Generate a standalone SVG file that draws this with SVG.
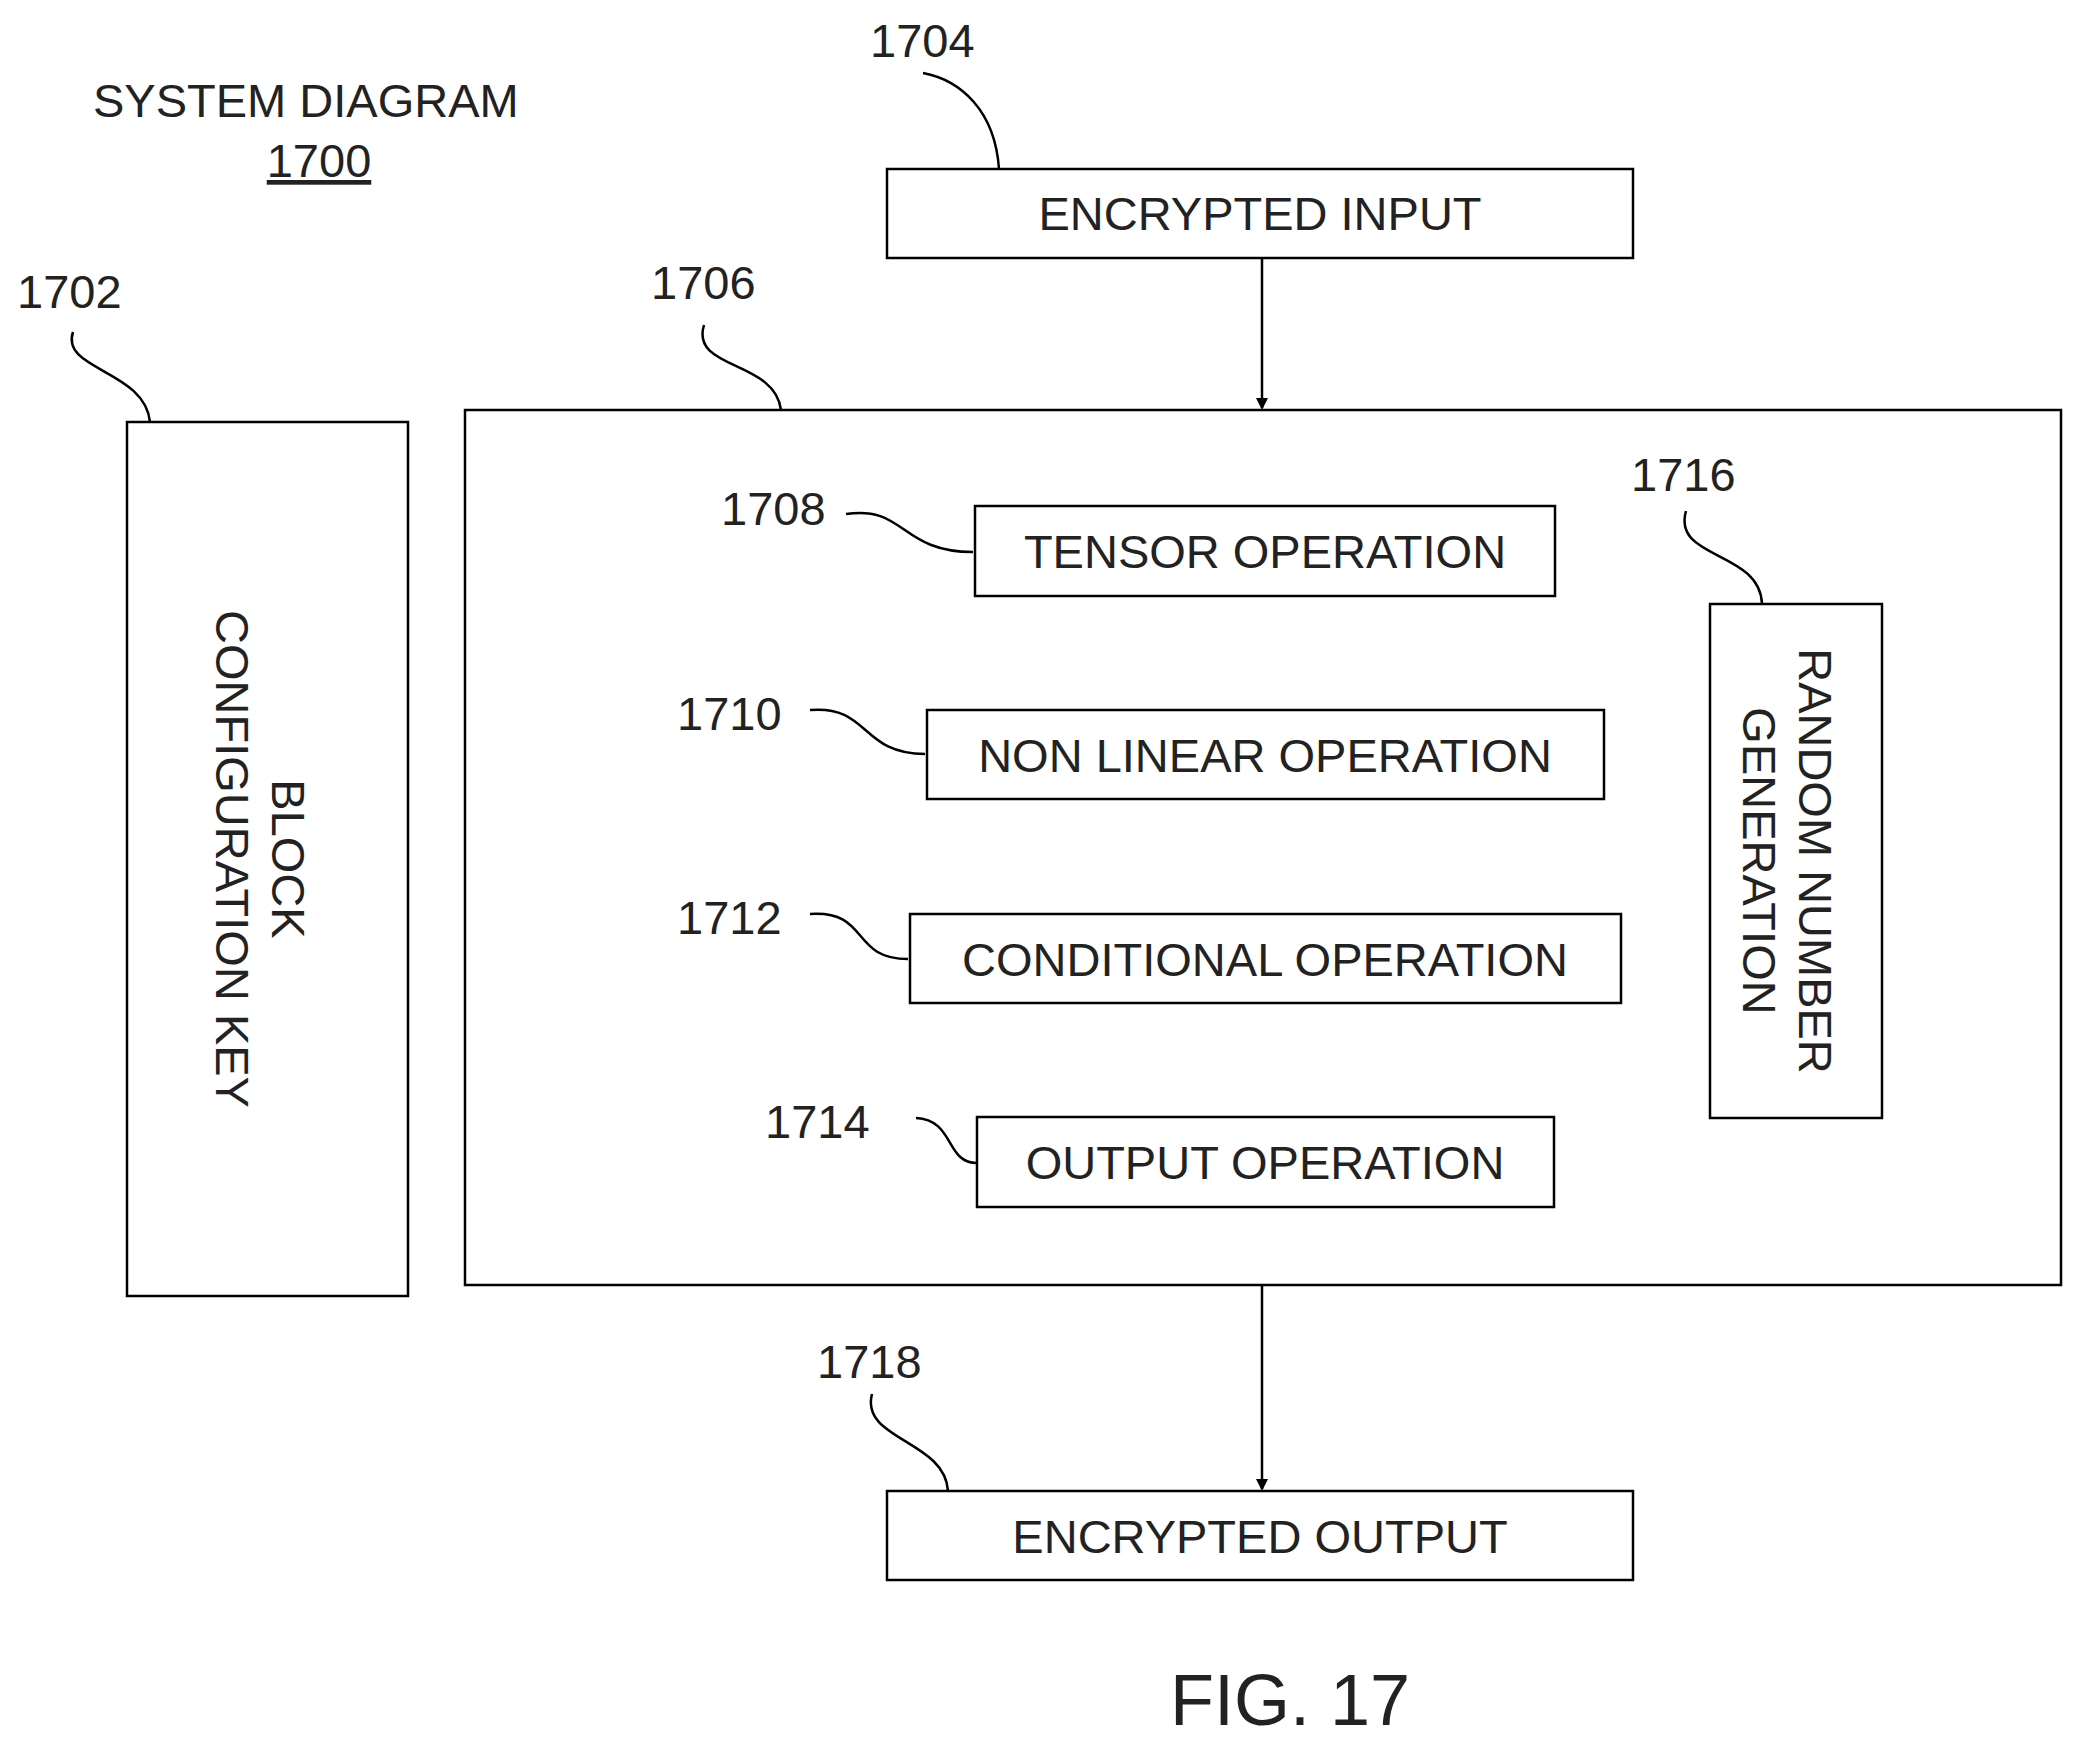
<svg xmlns="http://www.w3.org/2000/svg" width="2082" height="1753" viewBox="0 0 2082 1753">
<style>
.b{fill:none;stroke:#000;stroke-width:2.5}
.t{font-family:"Liberation Sans",Arial,sans-serif;font-size:47px;fill:#222}
.m{text-anchor:middle}
.c{fill:none;stroke:#000;stroke-width:2.5}
</style>
<defs><marker id="a" markerWidth="12" markerHeight="12" refX="10" refY="6" orient="auto" markerUnits="userSpaceOnUse"><path d="M0,0 L12,6 L0,12 z" fill="#000"/></marker></defs>
<rect width="2082" height="1753" fill="#fff"/>
<text class="t" x="93" y="117">SYSTEM DIAGRAM</text>
<text class="t m" x="319" y="177" text-decoration="underline">1700</text>
<g id="n1704"><rect class="b" x="887" y="169" width="746" height="89"/><text class="t m" x="1260" y="230">ENCRYPTED INPUT</text><text class="t" x="870" y="57">1704</text></g>
<g id="n1702"><rect class="b" x="127" y="422" width="281" height="874"/><text class="t m" transform="translate(272,859) rotate(90)">BLOCK</text><text class="t m" transform="translate(216,859) rotate(90)">CONFIGURATION KEY</text><text class="t" x="17" y="308">1702</text></g>
<g id="n1706"><rect class="b" x="465" y="410" width="1596" height="875"/><text class="t" x="651" y="299">1706</text></g>
<g id="n1708"><rect class="b" x="975" y="506" width="580" height="90"/><text class="t m" x="1265" y="568">TENSOR OPERATION</text><text class="t" x="721" y="525">1708</text></g>
<g id="n1710"><rect class="b" x="927" y="710" width="677" height="89"/><text class="t m" x="1265" y="772">NON LINEAR OPERATION</text><text class="t" x="677" y="730">1710</text></g>
<g id="n1712"><rect class="b" x="910" y="914" width="711" height="89"/><text class="t m" x="1265" y="976">CONDITIONAL OPERATION</text><text class="t" x="677" y="934">1712</text></g>
<g id="n1714"><rect class="b" x="977" y="1117" width="577" height="90"/><text class="t m" x="1265" y="1179">OUTPUT OPERATION</text><text class="t" x="765" y="1138">1714</text></g>
<g id="n1716"><rect class="b" x="1710" y="604" width="172" height="514"/><text class="t m" transform="translate(1799,861) rotate(90)">RANDOM NUMBER</text><text class="t m" transform="translate(1743,861) rotate(90)">GENERATION</text><text class="t" x="1631" y="491">1716</text></g>
<g id="n1718"><rect class="b" x="887" y="1491" width="746" height="89"/><text class="t m" x="1260" y="1553">ENCRYPTED OUTPUT</text><text class="t" x="817" y="1378">1718</text></g>
<text class="t m" x="1290" y="1725" style="font-size:72px">FIG. 17</text>
<g id="connectors">
<line class="c" x1="1262" y1="258" x2="1262" y2="408" marker-end="url(#a)"/>
<line class="c" x1="1262" y1="1285" x2="1262" y2="1489" marker-end="url(#a)"/>
<path class="c" d="M923,73 C960,80 995,110 999,169"/>
<path class="c" d="M73,332 C60,370 145,370 150,422"/>
<path class="c" d="M704,325 C690,370 775,360 781,410"/>
<path class="c" d="M846,514 C905,505 900,552 973,552"/>
<path class="c" d="M810,710 C870,705 860,754 925,754"/>
<path class="c" d="M810,914 C870,910 850,959 908,959"/>
<path class="c" d="M916,1118 C955,1120 945,1163 977,1163"/>
<path class="c" d="M1686,511 C1672,560 1760,550 1762,604"/>
<path class="c" d="M872,1394 C860,1440 945,1440 948,1491"/>
</g>
</svg>
